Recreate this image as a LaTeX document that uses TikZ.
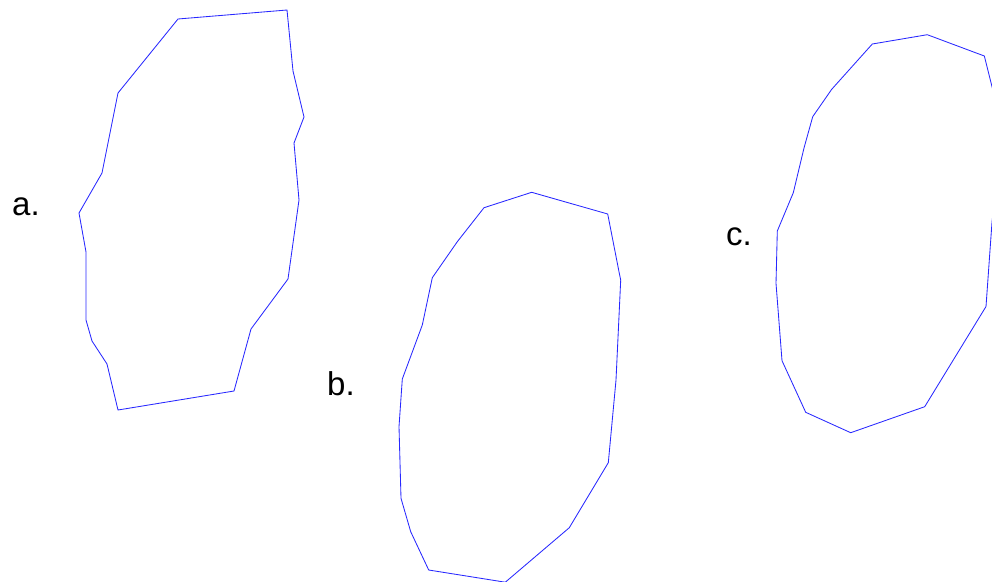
\documentclass[tikz,border=0pt]{standalone}
\usepackage{fontspec}
\setmainfont{Liberation Sans}
\begin{document}
\begin{tikzpicture}[x=1pt,y=-1pt,
  outline/.style={draw={rgb,255:red,40;green,40;blue,255},line width=0.85pt,line join=miter},
  lbl/.style={anchor=base west,inner sep=0pt,font=\fontsize{33}{40}\selectfont}]
\useasboundingbox (0,0) rectangle (992,581);
\clip (0,0) rectangle (992,581);
% shape a
\draw[outline] (178,19) -- (287,10) -- (293,71) -- (304,117) -- (294,143) -- (299,200)
  -- (288,279) -- (251,329) -- (234,391) -- (118,410) -- (107,364) -- (92,341)
  -- (86,320) -- (86,252) -- (79,213) -- (102,173) -- (118,93) -- cycle;
% shape b
\draw[outline] (531.7,192.3) -- (607.7,214) -- (619.3,273.3) -- (620.7,280) -- (616,380)
  -- (608.3,462.7) -- (569.3,527.7) -- (505.3,582.2) -- (428.7,570) -- (410.7,531.7)
  -- (401,498.3) -- (399,426.7) -- (402.3,379) -- (422.3,325) -- (432.3,277.7)
  -- (457.3,241.7) -- (484,207.7) -- cycle;
% shape c
\draw[outline] (872.3,44) -- (927.3,34.7) -- (984.3,56) -- (997.8,110) -- (995,195)
  -- (992,222) -- (986,306.5) -- (924.7,406.7) -- (850.7,432.7) -- (805.7,412.3)
  -- (782,360.7) -- (776,283.3) -- (777.3,231) -- (793.3,192.7) -- (804,148)
  -- (812.7,116.7) -- (831.7,89.3) -- cycle;
\node[lbl] (la) at (12,215) {a.};
\node[lbl] (lb) at (327,395) {b.};
\node[lbl] (lc) at (726,245) {c.};
\end{tikzpicture}
\end{document}
